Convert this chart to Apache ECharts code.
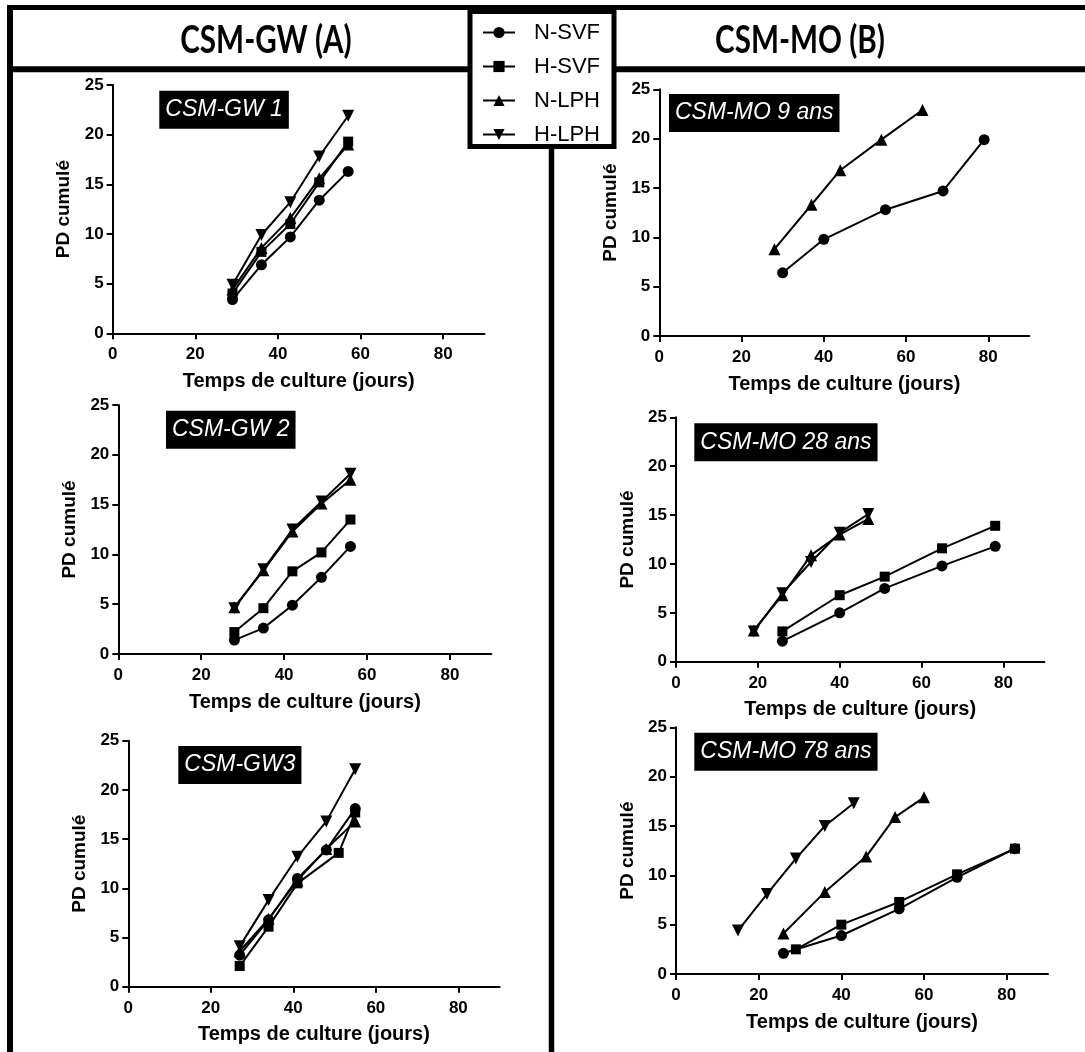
<!DOCTYPE html>
<html><head><meta charset="utf-8">
<script src="https://cdn.jsdelivr.net/npm/echarts@6/dist/echarts.min.js"></script>
<style>html,body{margin:0;padding:0;background:#fff}#c{width:1085px;height:1052px}</style>
</head><body><div id="c"></div>
<script>
// ---------- data ----------
const xTicks = [0, 20, 40, 60, 80];
const yTicks = [0, 5, 10, 15, 20, 25];
const seriesNames = ['N-SVF', 'H-SVF', 'N-LPH', 'H-LPH'];
const panelTitles = ['CSM-GW 1', 'CSM-GW 2', 'CSM-GW3', 'CSM-MO 9 ans', 'CSM-MO 28 ans', 'CSM-MO 78 ans'];
const headers = ['CSM-GW (A)', 'CSM-MO (B)'];

// CSM-GW 1
const gw1Days = [29, 36, 43, 50, 57];
const gw1NSVF = [3.4, 6.9, 9.7, 13.4, 16.3];
const gw1HSVF = [4.0, 8.2, 11.0, 15.2, 19.3];
const gw1NLPH = [4.4, 8.6, 11.6, 15.6, 19.0];
const gw1HLPH = [4.9, 9.9, 13.2, 17.8, 21.9];
// CSM-GW 2
const gw2Days = [28, 35, 42, 49, 56];
const gw2NSVF = [1.4, 2.6, 4.9, 7.7, 10.8];
const gw2HSVF = [2.2, 4.6, 8.3, 10.2, 13.5];
const gw2NLPH = [4.7, 8.4, 12.3, 15.1, 17.5];
const gw2HLPH = [4.6, 8.5, 12.5, 15.3, 18.1];
// CSM-GW3
const gw3Days = [27, 34, 41, 48, 55];
const gw3DaysHSVF = [27, 34, 41, 51, 55];
const gw3NSVF = [3.2, 6.8, 11.0, 13.9, 18.1];
const gw3HSVF = [2.1, 6.1, 10.5, 13.6, 17.7];
const gw3NLPH = [3.6, 6.9, 10.8, 14.0, 16.8];
const gw3HLPH = [4.1, 8.8, 13.2, 16.8, 22.1];
// CSM-MO 9 ans
const mo9DaysNSVF = [30, 40, 55, 69, 79];
const mo9NSVF = [6.4, 9.8, 12.8, 14.7, 19.9];
const mo9DaysNLPH = [28, 37, 44, 54, 64];
const mo9NLPH = [8.8, 13.3, 16.8, 19.9, 22.9];
// CSM-MO 28 ans
const mo28DaysSVF = [26, 40, 51, 65, 78];
const mo28NSVF = [2.1, 5.0, 7.5, 9.8, 11.8];
const mo28HSVF = [3.1, 6.8, 8.7, 11.6, 13.9];
const mo28DaysLPH = [19, 26, 33, 40, 47];
const mo28NLPH = [3.2, 6.8, 10.9, 13.0, 14.6];
const mo28HLPH = [3.1, 7.0, 10.2, 13.2, 15.1];
// CSM-MO 78 ans
const mo78DaysNSVF = [26, 40, 54, 68, 82];
const mo78NSVF = [2.1, 3.9, 6.6, 9.8, 12.7];
const mo78DaysHSVF = [29, 40, 54, 68, 82];
const mo78HSVF = [2.5, 5.0, 7.3, 10.1, 12.7];
const mo78DaysNLPH = [26, 36, 46, 53, 60];
const mo78NLPH = [4.1, 8.3, 11.9, 15.9, 17.9];
const mo78DaysHLPH = [15, 22, 29, 36, 43];
const mo78HLPH = [4.4, 8.1, 11.7, 15.0, 17.3];

// ---------- layout ----------
const grids = [
  {left: 112.7, top: 85,    width: 371.8, height: 248.3},
  {left: 118.3, top: 405,   width: 373.1, height: 249},
  {left: 128.3, top: 740.7, width: 371.3, height: 246},
  {left: 659.3, top: 89.3,  width: 370.1, height: 246.7},
  {left: 676,   top: 417.3, width: 368.3, height: 244.4},
  {left: 676,   top: 727.3, width: 372,   height: 246.7}
];
const titlePos = [[159.3, 90.7], [166, 410.7], [178.3, 746], [669, 94], [694.3, 423.3], [694.3, 732.7]];

const FONT = 'Liberation Sans';
const symbols = {
  'N-SVF': {symbol: 'circle', size: 11, rot: 0},
  'H-SVF': {symbol: 'rect', size: 10, rot: 0},
  'N-LPH': {symbol: 'triangle', size: 12, rot: 0},
  'H-LPH': {symbol: 'triangle', size: 12, rot: 180}
};
function pairs(xs, ys) { return xs.map((x, i) => [x, ys[i]]); }
function mk(g, name, xs, ys) {
  const s = symbols[name];
  return {
    type: 'line', name: name, xAxisIndex: g, yAxisIndex: g,
    data: pairs(xs, ys), symbol: s.symbol, symbolSize: s.size, symbolRotate: s.rot,
    showSymbol: true, lineStyle: {color: '#000', width: 2}, itemStyle: {color: '#000'},
    emphasis: {disabled: true}, animation: false
  };
}
const series = [
  mk(0, 'N-SVF', gw1Days, gw1NSVF), mk(0, 'N-LPH', gw1Days, gw1NLPH),
  mk(0, 'H-SVF', gw1Days, gw1HSVF), mk(0, 'H-LPH', gw1Days, gw1HLPH),
  mk(1, 'N-SVF', gw2Days, gw2NSVF), mk(1, 'H-SVF', gw2Days, gw2HSVF),
  mk(1, 'N-LPH', gw2Days, gw2NLPH), mk(1, 'H-LPH', gw2Days, gw2HLPH),
  mk(2, 'H-SVF', gw3DaysHSVF, gw3HSVF), mk(2, 'N-LPH', gw3Days, gw3NLPH),
  mk(2, 'N-SVF', gw3Days, gw3NSVF), mk(2, 'H-LPH', gw3Days, gw3HLPH),
  mk(3, 'N-SVF', mo9DaysNSVF, mo9NSVF), mk(3, 'N-LPH', mo9DaysNLPH, mo9NLPH),
  mk(4, 'N-SVF', mo28DaysSVF, mo28NSVF), mk(4, 'H-SVF', mo28DaysSVF, mo28HSVF),
  mk(4, 'N-LPH', mo28DaysLPH, mo28NLPH), mk(4, 'H-LPH', mo28DaysLPH, mo28HLPH),
  mk(5, 'N-SVF', mo78DaysNSVF, mo78NSVF), mk(5, 'H-SVF', mo78DaysHSVF, mo78HSVF),
  mk(5, 'N-LPH', mo78DaysNLPH, mo78NLPH), mk(5, 'H-LPH', mo78DaysHLPH, mo78HLPH)
];

const axLine = {show: true, onZero: false, lineStyle: {color: '#000', width: 2}};
const lblStyle = {color: '#000', fontWeight: 'bold', fontSize: 17, fontFamily: FONT};
const xAxes = grids.map((g, i) => ({
  type: 'value', gridIndex: i, min: 0, max: 90, interval: 20,
  axisLine: axLine,
  axisTick: {show: true, length: 6, lineStyle: {color: '#000', width: 2}, customValues: xTicks},
  axisLabel: Object.assign({customValues: xTicks, margin: 13}, lblStyle),
  splitLine: {show: false},
  name: 'Temps de culture (jours)', nameLocation: 'middle', nameGap: 38,
  nameTextStyle: {color: '#000', fontWeight: 'bold', fontSize: 20, fontFamily: FONT}
}));
const yAxes = grids.map((g, i) => ({
  type: 'value', gridIndex: i, min: 0, max: 25, interval: 5,
  axisLine: axLine,
  axisTick: {show: true, length: 6, lineStyle: {color: '#000', width: 2}, customValues: yTicks},
  axisLabel: Object.assign({customValues: yTicks, margin: 9}, lblStyle),
  splitLine: {show: false},
  name: 'PD cumulé', nameLocation: 'middle', nameGap: 39, nameRotate: 90,
  nameTextStyle: {color: '#000', fontWeight: 'bold', fontSize: 19, fontFamily: FONT}
}));
const titles = panelTitles.map((t, i) => ({
  text: t, left: titlePos[i][0], top: titlePos[i][1],
  backgroundColor: '#000', padding: [7, 6, 7, 6],
  textStyle: {color: '#fff', fontStyle: 'italic', fontWeight: 'normal', fontSize: 23, fontFamily: FONT, lineHeight: 24}
}));

const K = '#000';
function header(text, cx) {
  return {type: 'text', x: cx, y: 40, scaleX: 0.76, scaleY: 1, z: 2,
    style: {text: text, x: 0, y: 0, align: 'center', verticalAlign: 'middle', fill: K, font: 'bold 39px Lato'}};
}
const graphic = [
  {type: 'line', shape: {x1: 7, y1: 7.5, x2: 1085, y2: 7.5}, style: {stroke: K, lineWidth: 5}, z: 1},
  {type: 'line', shape: {x1: 10, y1: 5, x2: 10, y2: 1052}, style: {stroke: K, lineWidth: 6}, z: 1},
  {type: 'line', shape: {x1: 10, y1: 69.3, x2: 470, y2: 69.3}, style: {stroke: K, lineWidth: 6}, z: 1},
  {type: 'line', shape: {x1: 615, y1: 69.3, x2: 1085, y2: 69.3}, style: {stroke: K, lineWidth: 6}, z: 1},
  {type: 'line', shape: {x1: 551.5, y1: 145, x2: 551.5, y2: 1052}, style: {stroke: K, lineWidth: 5.5}, z: 1},
  header(headers[0], 266),
  header(headers[1], 800)
];

const option = {
  animation: false,
  backgroundColor: '#fff',
  grid: grids.map(g => Object.assign({containLabel: false}, g)),
  xAxis: xAxes, yAxis: yAxes, series: series, title: titles,
  legend: {
    data: seriesNames, orient: 'vertical', left: 470, top: 11.5,
    padding: [9, 14, 0, 12],
    itemWidth: 32, itemHeight: 14, itemGap: 10,
    backgroundColor: '#fff', borderColor: '#000', borderWidth: 5,
    textStyle: {color: '#000', fontSize: 22, fontFamily: FONT, lineHeight: 24, padding: [0, 0, 0, 14]},
    selectedMode: false, z: 10
  },
  graphic: graphic
};
const chart = echarts.init(document.getElementById('c'), null, {renderer: 'canvas'});
chart.setOption(option);
</script></body></html>
